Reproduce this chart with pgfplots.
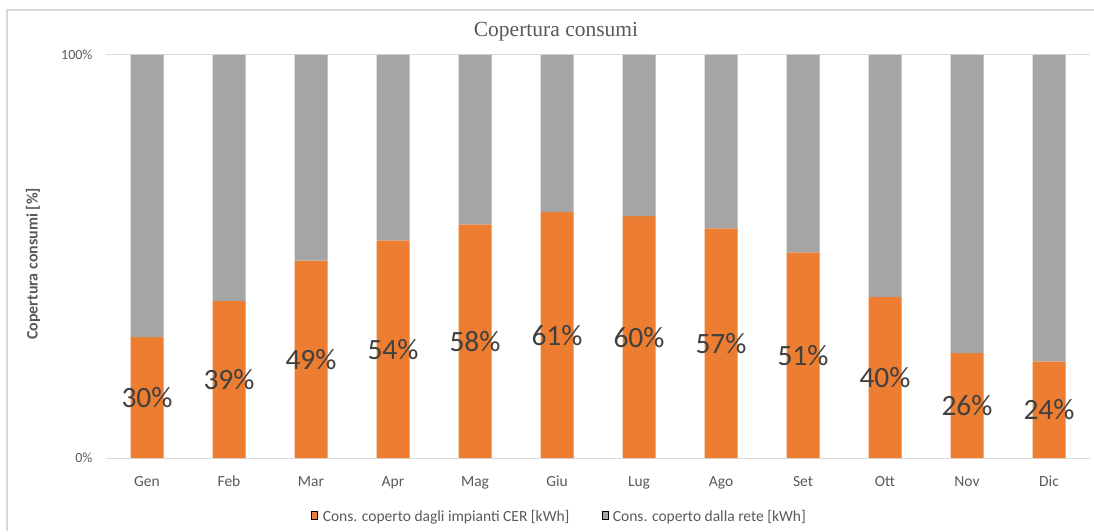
\documentclass[border=0pt]{standalone}
\usepackage{pgfplots}
\pgfplotsset{compat=1.18}
\usepackage{pgfplotstable}
\usepackage{fontspec}
\setmainfont{Carlito}
\newfontfamily\titlefont{Liberation Serif}

\definecolor{cerorange}{HTML}{ED7D31}
\definecolor{retegray}{HTML}{A5A5A5}
\definecolor{txtgray}{HTML}{595959}
\definecolor{lblgray}{HTML}{404040}
\definecolor{linegray}{HTML}{D9D9D9}

% monthly share of consumption covered by the CER plants [%]
\pgfplotstableread{
x  v
0  30
1  39
2  49
3  54
4  58
5  61
6  60
7  57
8  51
9  40
10 26
11 24
}\copertura

\begin{document}
\begin{tikzpicture}[x=1pt,y=1pt]
\useasboundingbox (0,0) rectangle (1094,531);
% chart frame
\draw[linegray, line width=1.2pt] (7,0) -- (7,521) -- (1094,521);

\begin{axis}[
  at={(106pt,73pt)}, anchor=south west,
  scale only axis, width=984pt, height=403pt,
  xmin=-0.5, xmax=11.5, ymin=0, ymax=100,
  axis line style={draw=none},
  major tick length=0pt,
  ymajorgrids, grid style={linegray, line width=1pt},
  ytick={0,100}, yticklabels={0\%,100\%},
  xtick=data,
  xticklabels={Gen,Feb,Mar,Apr,Mag,Giu,Lug,Ago,Set,Ott,Nov,Dic},
  yticklabel style={font=\fontsize{14}{16}\selectfont, text=txtgray, xshift=-10pt},
  xticklabel style={font=\fontsize{15.5}{18}\selectfont, text=txtgray,
    text height=10.5pt, text depth=3pt, yshift=-14pt},
  /pgf/number format/assume math mode=true,
  clip=false,
  legend columns=2,
  legend style={at={(0.461,-0.1464)}, anchor=center, draw=none, fill=none,
    font=\fontsize{15.5}{17}\selectfont, text=txtgray,
    /tikz/every odd column/.append style={column sep=3pt},
    /tikz/every even column/.append style={column sep=30pt}},
  legend image code/.code={\fill[#1] (0pt,-4pt) rectangle (8pt,4pt);},
]
\addplot[ybar stacked, bar width=33pt, fill=cerorange, draw=none]
  table[x=x, y=v] {\copertura};
\addlegendentry{Cons. coperto dagli impianti CER [kWh]}
\addplot[ybar stacked, bar width=33pt, fill=retegray, draw=none]
  table[x=x, y expr=100-\thisrow{v}] {\copertura};
\addlegendentry{Cons. coperto dalla rete [kWh]}
% value labels, centred in the orange segment
\addplot[draw=none, forget plot, point meta=explicit,
  nodes near coords={\pgfmathprintnumber[fixed,precision=0]{\pgfplotspointmeta}\%},
  every node near coord/.append style={anchor=center, text=lblgray,
    font=\fontsize{29.5}{31}\selectfont}]
  table[x=x, y expr=\thisrow{v}/2, meta=v] {\copertura};
\end{axis}

\node[font=\titlefont\fontsize{21.5}{24}\selectfont, text=txtgray] at (556,499) {Copertura consumi};
\node[font=\bfseries\fontsize{16}{18}\selectfont, text=txtgray, rotate=90] at (33,267) {Copertura consumi [\%]};
\end{tikzpicture}
\end{document}
